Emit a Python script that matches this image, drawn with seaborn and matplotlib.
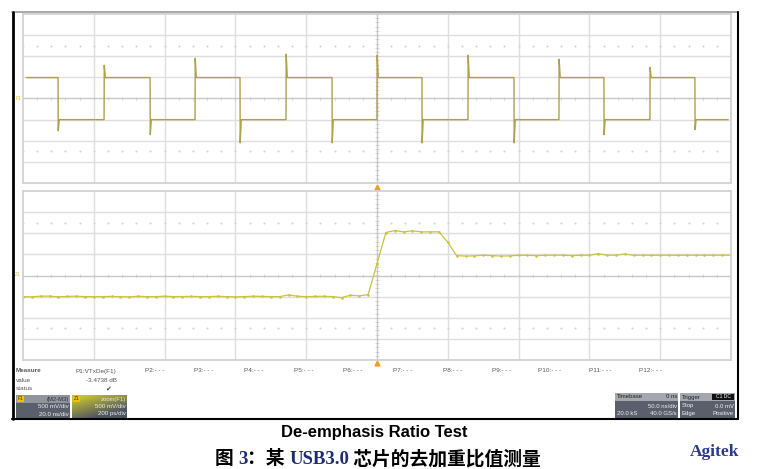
import numpy as np
import pandas as pd
import matplotlib.pyplot as plt
import seaborn as sns

# top trace F1 (M2-M3): 500 mV/div, 20 ns/div
edge_times_ns = [-90.1, -77.1, -64.1, -51.4, -38.7, -25.7, -12.7, 0.0,
                 12.7, 25.7, 38.7, 51.4, 64.1, 77.1, 89.8]
edge_spikes_mv = [-762, 786, -857, 952, -1048, 1048, -1048, 1024,
                  -1048, 1024, -1048, 929, -857, 738, -738]
high_mv = 495
low_mv = -500
trace_start_ns = -99.0
trace_end_ns = 99.2

# bottom trace Z1 zoom(F1): 500 mV/div, 200 ps/div, one sample per 25 ps
zoom_mv = [-500, -505, -490, -488, -505, -495, -490, -500, -500, -500,
           -495, -500, -505, -492, -500, -500, -490, -500, -498, -495,
           -500, -500, -492, -500, -505, -500, -490, -495, -500, -500,
           -460, -490, -500, -495, -492, -500, -524, -467, -483, -452,
           279, 1017, 1064, 1033, 1057, 1033, 1033, 1033, 786, 469,
           460, 465, 478, 470, 462, 464, 478, 478, 470, 478,
           480, 480, 470, 478, 480, 514, 480, 480, 507, 478,
           480, 478, 480, 480, 478, 480, 480, 480, 480, 480, 480]
zoom_ps = [-1000 + 25 * i for i in range(len(zoom_mv))]

measure_slots = ["P2:- - -", "P3:- - -", "P4:- - -", "P5:- - -", "P6:- - -",
                 "P7:- - -", "P8:- - -", "P9:- - -", "P10:- - -", "P11:- - -",
                 "P12:- - -"]

sns.set_style("white")
plt.rcParams['font.family'] = ['Liberation Sans', 'DejaVu Sans']

W, H = 766, 469
fig = plt.figure(figsize=(W / 100, H / 100), dpi=100)

# full-figure pixel canvas for frame, panels and captions
bg = fig.add_axes([0, 0, 1, 1])
bg.set_xlim(0, W)
bg.set_ylim(H, 0)
bg.axis("off")


def px_axes(x0, y0, x1, y1):
    return fig.add_axes([x0 / W, 1 - y1 / H, (x1 - x0) / W, (y1 - y0) / H])


# build the top polyline from edges
tx, ty = [trace_start_ns], [high_mv]
level = high_mv
for t, sp in zip(edge_times_ns, edge_spikes_mv):
    tx.append(t)
    ty.append(level)
    level = low_mv if sp < 0 else high_mv
    tx.append(t + 0.05)
    ty.append(sp)
    tx.append(t + 0.35)
    ty.append(level)
tx.append(trace_end_ns)
ty.append(level)
top_df = pd.DataFrame({"t": tx, "v": ty})
bot_df = pd.DataFrame({"t": zoom_ps, "v": zoom_mv})


def scope_grid(ax, xspan):
    xdiv = xspan / 10
    ydiv = 500
    ax.set_xlim(-xspan / 2, xspan / 2)
    ax.set_ylim(-4 * ydiv, 4 * ydiv)
    ax.set_xticks([])
    ax.set_yticks([])
    for s in ax.spines.values():
        s.set_color("#d2d2d2")
        s.set_linewidth(1.3)
    gc = "#dedede"
    for k in range(-4, 5):
        if k != 0:
            ax.axvline(k * xdiv, color=gc, lw=1.0, zorder=0)
    for k in range(-3, 4):
        if k != 0:
            ax.axhline(k * ydiv, color=gc, lw=1.0, zorder=0)
    ax.axvline(0, color="#c8c8c8", lw=1.0, zorder=0)
    ax.axhline(0, color="#c8c8c8", lw=1.0, zorder=0)
    minor_x = np.arange(-5, 5.01, 0.2) * xdiv
    ax.vlines(minor_x, -40, 40, color="#c4c4c4", lw=0.5, zorder=0)
    minor_y = np.arange(-4, 4.01, 0.2) * ydiv
    ax.hlines(minor_y, -xdiv * 0.025, xdiv * 0.025, color="#c4c4c4", lw=0.5, zorder=0)
    for yy in (2.5 * ydiv, -2.5 * ydiv):
        ax.plot(minor_x, [yy] * len(minor_x), ls="none", marker="s",
                ms=0.5, color="#d4d4d4", zorder=0)


ax_top = px_axes(23, 14, 731, 183)
scope_grid(ax_top, 200)
sns.lineplot(data=top_df, x="t", y="v", ax=ax_top, color="#b0a048",
             lw=1.0, estimator=None, sort=False)
ax_top.set_xlabel("")
ax_top.set_ylabel("")

ax_bot = px_axes(23, 191, 731, 360)
scope_grid(ax_bot, 2000)
sns.lineplot(data=bot_df, x="t", y="v", ax=ax_bot, color="#c8c43c",
             lw=0.9, estimator=None, sort=False, marker="o", ms=1.8,
             markeredgewidth=0)
ax_bot.set_xlabel("")
ax_bot.set_ylabel("")

# outer frame
bg.plot([12, 738], [12, 12], color="#9a9a9a", lw=1.2)
bg.plot([12.5, 12.5], [12, 419], color="black", lw=2)
bg.plot([738, 738], [12, 419], color="black", lw=1.5)
bg.plot([12, 738], [419, 419], color="black", lw=1.5)

# trigger markers and trace labels
bg.plot([377, 377], [187.5, 363], ls="none", marker="^", ms=3.5, color="#f0a020")
bg.text(18, 99, "F1", fontsize=3.5, color="#e0b820", ha="center", va="center")
bg.text(18, 275, "Z1", fontsize=3.5, color="#c8c43c", ha="center", va="center")

# LeCroy logo
bg.add_patch(plt.Rectangle((699, 16), 31, 9, color="#e2e2e2", lw=0))
bg.text(714.5, 20.5, "LeCroy", fontsize=5.2, color="#6a6a6a", ha="center", va="center")
bg.plot([700, 729], [24.5, 24.5], color="#8a8a8a", lw=0.5)

# measurement table
small = dict(fontsize=4.6, color="#555555", va="center")
bg.text(16, 371, "Measure", fontweight="bold", **small)
bg.text(16, 380, "value", **small)
bg.text(16, 389, "status", **small)
bg.text(75, 371, "P1:VTxDe(F1)", **small)
bg.text(117, 380, "-3.4738 dB", ha="right", **small)
bg.text(108, 389, "\u2714", fontsize=5, color="#444444", ha="center", va="center",
        family="DejaVu Sans")
slot_x = [145, 194, 244, 294, 343, 393, 443, 492, 538, 589, 639]
for sx, lab in zip(slot_x, measure_slots):
    bg.text(sx, 371, lab, **small)

# channel descriptor boxes
bg.add_patch(plt.Rectangle((16, 395), 54, 8, color="#8f949d", lw=0))
bg.add_patch(plt.Rectangle((16, 403), 54, 15, color="#59606b", lw=0))
bg.add_patch(plt.Rectangle((17, 396), 7, 6, color="#f2c200", lw=0))
bg.text(20.5, 399, "F1", fontsize=3.6, color="#333333", ha="center", va="center")
bg.text(69, 399, "(M2-M3)", fontsize=4.2, color="#303030", ha="right", va="center")
bg.text(69, 407, "500 mV/div", fontsize=4.4, color="#f0f0f0", ha="right", va="center")
bg.text(69, 414, "20.0 ns/div", fontsize=4.4, color="#f0f0f0", ha="right", va="center")

gx, gy = np.meshgrid(np.linspace(0, 1, 60), np.linspace(0, 1, 25))
grad = np.clip(0.9 * gy + 0.6 * (1 - gx) - 0.35, 0, 1)
cm = sns.blend_palette(["#4f5560", "#c6c230"], as_cmap=True)
bg.imshow(grad, extent=(72, 127, 395, 418), cmap=cm, aspect="auto",
          origin="upper", zorder=1)
bg.add_patch(plt.Rectangle((73, 396), 7, 6, color="#f2c200", lw=0, zorder=2))
bg.text(76.5, 399, "Z1", fontsize=3.6, color="#333333", ha="center", va="center", zorder=3)
bg.text(126, 399, "zoom(F1)", fontsize=4.2, color="#e8e8e8", ha="right", va="center", zorder=3)
bg.text(126, 407, "500 mV/div", fontsize=4.4, color="#f0f0f0", ha="right", va="center", zorder=3)
bg.text(126, 414, "200 ps/div", fontsize=4.4, color="#f0f0f0", ha="right", va="center", zorder=3)

# timebase / trigger boxes
for x0, x1 in ((615, 678), (680, 735)):
    bg.add_patch(plt.Rectangle((x0, 393), x1 - x0, 8, color="#a3a7ae", lw=0))
    bg.add_patch(plt.Rectangle((x0, 401), x1 - x0, 17, color="#59606b", lw=0))
box_txt = dict(fontsize=4.3, va="center")
bg.text(617, 397, "Timebase", color="#202020", **box_txt)
bg.text(677, 397, "0 ns", color="#202020", ha="right", **box_txt)
bg.text(677, 406, "50.0 ns/div", color="#f0f0f0", ha="right", **box_txt)
bg.text(617, 413.5, "20.0 kS", color="#f0f0f0", **box_txt)
bg.text(677, 413.5, "40.0 GS/s", color="#f0f0f0", ha="right", **box_txt)
bg.text(682, 397, "Trigger", color="#202020", **box_txt)
bg.add_patch(plt.Rectangle((712, 394), 22, 6, color="#111111", lw=0))
bg.text(723, 397, "C1 DC", fontsize=3.6, color="white", ha="center", va="center")
bg.text(682, 406, "Stop", color="#f0f0f0", **box_txt)
bg.text(734, 406, "0.0 mV", color="#f0f0f0", ha="right", **box_txt)
bg.text(682, 413.5, "Edge", color="#f0f0f0", **box_txt)
bg.text(734, 413.5, "Positive", color="#f0f0f0", ha="right", **box_txt)

# captions
bg.text(374, 432, "De-emphasis Ratio Test", fontsize=12, fontweight="bold",
        color="black", ha="center", va="center")

cjk = ['Noto Sans CJK SC', 'DejaVu Sans']
pieces = [("图 ", "black", cjk), ("3", "#1c2c70", ["Liberation Serif"]),
          ("：某 ", "black", cjk), ("USB3.0", "#1c2c70", ["Liberation Serif"]),
          (" 芯片的去加重比值测量", "black", cjk)]
prev = None
for s, c, fam in pieces:
    if prev is None:
        prev = bg.text(215, 459, s, fontsize=13.5, fontweight="bold", color=c,
                       family=fam, ha="left", va="center")
    else:
        prev = bg.annotate(s, xy=(1, 0.5), xycoords=prev, fontsize=13.5,
                           fontweight="bold", color=c, family=fam,
                           ha="left", va="center")

bg.text(715, 452, "Agitek", fontsize=12.5, fontweight="bold", color="#2b3a8c",
        family="Liberation Serif", ha="center", va="center")

fig.savefig("out.png", dpi=100)
